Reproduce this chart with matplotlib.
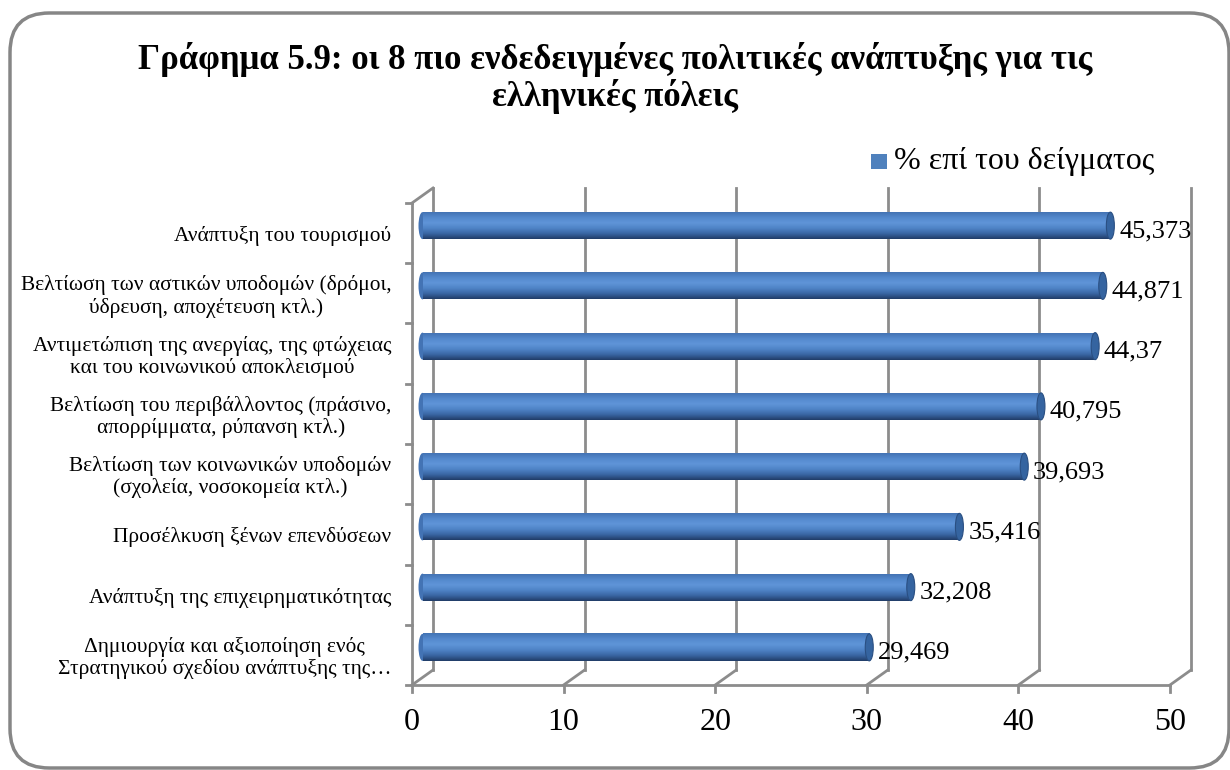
import numpy as np
import matplotlib
matplotlib.use("Agg")
import matplotlib.pyplot as plt
from matplotlib.patches import FancyBboxPatch, Rectangle, Ellipse
from matplotlib.colors import LinearSegmentedColormap

plt.rcParams['font.family'] = ['Liberation Serif', 'DejaVu Serif']

title = "Γράφημα 5.9: οι 8 πιο ενδεδειγμένες πολιτικές ανάπτυξης για τις\nελληνικές πόλεις"
series_name = "% επί του δείγματος"
categories = [
    "Ανάπτυξη του τουρισμού",
    "Βελτίωση των αστικών υποδομών (δρόμοι,\nύδρευση, αποχέτευση κτλ.)",
    "Αντιμετώπιση της ανεργίας, της φτώχειας\nκαι του κοινωνικού αποκλεισμού",
    "Βελτίωση του περιβάλλοντος (πράσινο,\nαπορρίμματα, ρύπανση κτλ.)",
    "Βελτίωση των κοινωνικών υποδομών\n(σχολεία, νοσοκομεία κτλ.)",
    "Προσέλκυση ξένων επενδύσεων",
    "Ανάπτυξη της επιχειρηματικότητας",
    "Δημιουργία και αξιοποίηση ενός\nΣτρατηγικού σχεδίου ανάπτυξης της…",
]
values = [45.373, 44.871, 44.37, 40.795, 39.693, 35.416, 32.208, 29.469]
xticks = [0, 10, 20, 30, 40, 50]

W, H = 1230, 770
fig = plt.figure(figsize=(W / 100, H / 100), dpi=100)

# rounded outer border, pixel box (10,13)-(1229,768)
bx0, by0, bx1, by1 = 10, 13, 1229, 768
border = FancyBboxPatch((bx0 / W, 1 - by1 / H), (bx1 - bx0) / W, (by1 - by0) / H,
                        boxstyle="round,pad=0,rounding_size=0.032",
                        transform=fig.transFigure, facecolor='none', edgecolor='#868686',
                        linewidth=2.5, mutation_aspect=W / H, clip_on=False, zorder=-1)
fig.patches.append(border)

# axes: front plane x 412..1170 px, back plane shifted by (21, -15) px
px_per_unit = (1170 - 412) / 50.0
dx = 21 / px_per_unit
slot_px = (685 - 203) / 8.0
dy = 15 / slot_px
ax_left, ax_right = 412, 1191
ax_top, ax_bot = 188, 685
ax = fig.add_axes([ax_left / W, 1 - ax_bot / H, (ax_right - ax_left) / W, (ax_bot - ax_top) / H])
ax.axis('off')

gc = '#8c8c8c'
lw = 2.0
n = len(categories)
# back wall gridlines and floor diagonals
for v in xticks:
    ax.plot([v + dx, v + dx], [dy, n + dy], color=gc, lw=lw, zorder=1, clip_on=False)
    ax.plot([v, v + dx], [0, dy], color=gc, lw=lw, zorder=1, clip_on=False)
    ax.plot([v, v], [0, -0.12], color=gc, lw=lw, zorder=1, clip_on=False)
# left wall
ax.plot([0, 0], [0, n], color=gc, lw=lw, clip_on=False)
ax.plot([0, dx], [n, n + dy], color=gc, lw=lw, clip_on=False)
ax.plot([0, 50], [0, 0], color=gc, lw=lw, clip_on=False)
for k in range(n + 1):
    ax.plot([-0.4, 0], [k, k], color=gc, lw=lw, clip_on=False)

# cylinder bars
cmap = LinearSegmentedColormap.from_list('cyl', ['#213d68', '#3a66a3', '#4f83c6', '#5f95d8', '#5489cd', '#4373b4'])
grad = np.linspace(0, 1, 64).reshape(-1, 1)
bh = 27 / slot_px
cap_w = 8 / px_per_unit
for i, (cat, v) in enumerate(zip(categories, values)):
    yc = n - i - 0.5 + dy / 2
    x0 = dx / 2
    x1 = v + dx / 2
    ax.imshow(grad, cmap=cmap, aspect='auto', extent=[x0, x1, yc - bh / 2, yc + bh / 2],
              origin='lower', zorder=3, interpolation='bilinear')
    ax.add_patch(Ellipse((x0, yc), cap_w, bh, facecolor='#4373b4', edgecolor='none', zorder=2.9))
    ax.add_patch(Ellipse((x1, yc), cap_w, bh, facecolor='#3564a0', edgecolor='#2a4f82', lw=0.8, zorder=3.1))
    ax.text(x1 + cap_w * 1.1, yc - 0.09, f"{v:g}".replace('.', ','), fontsize=19,
            va='center', ha='left', zorder=4)
    ax.text(-1.35, n - i - 0.55, cat, fontsize=15.4, ha='right', va='center',
            multialignment='center', linespacing=1.15, clip_on=False)

for v in xticks:
    ax.text(v, -0.62, str(v), fontsize=23, ha='center', va='center', clip_on=False)
ax.set_xlim(0, 50 + dx)
ax.set_ylim(0, 8 + dy)

fig.text(615 / W, 1 - 78 / H, title, fontsize=25, fontweight='bold', ha='center', va='center',
         linespacing=1.05)

# legend
fig.patches.append(Rectangle((871 / W, 1 - 169 / H), 16 / W, 15 / H, transform=fig.transFigure,
                             facecolor='#4f81bd', edgecolor='none'))
fig.text(894 / W, 1 - 162 / H, series_name, fontsize=23, ha='left', va='center')

fig.savefig('out.png', dpi=100)
